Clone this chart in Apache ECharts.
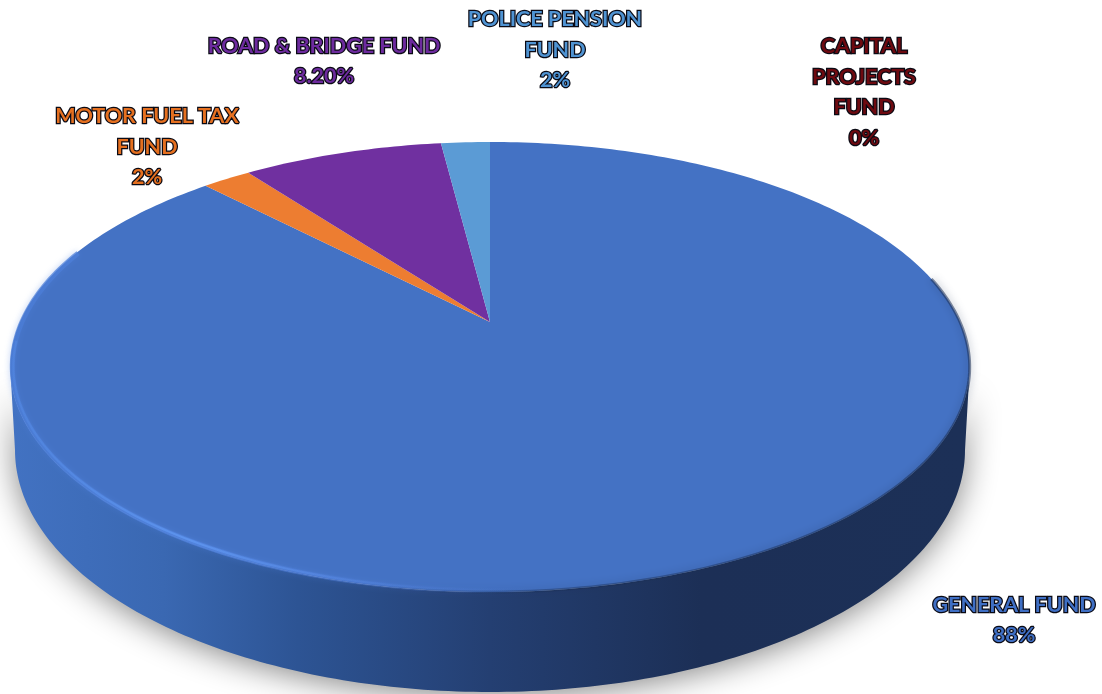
<!DOCTYPE html>
<html>
<head>
<meta charset="utf-8">
<style>
  html, body { margin: 0; padding: 0; background: #fff; }
  #chart { width: 1102px; height: 694px; }
</style>
<script src="https://cdn.jsdelivr.net/npm/echarts@6/dist/echarts.min.js"></script>
</head>
<body>
<div id="chart"></div>
<script>
// Share of funds, clockwise from twelve o'clock
const fundNames = ['GENERAL FUND', 'MOTOR FUEL TAX\nFUND', 'ROAD & BRIDGE FUND', 'POLICE PENSION\nFUND', 'CAPITAL\nPROJECTS\nFUND'];
const fundShares = [88, 2, 8.2, 2, 0];
const shareLabels = ['88%', '2%', '8.20%', '2%', '0%'];
const sliceColors = ['#4472c4', '#ed7d31', '#7030a0', '#5b9bd5', '#a5a5a5'];
const labelColors = ['#3f6fc4', '#e57020', '#6d2b9e', '#4f93d2', '#6e0a10'];
const labelCentres = [[1014, 620], [147, 147], [324, 61], [555, 50], [864, 92]];

// Perspective projection of the pie's top face and the ellipse of its base
const apex = { x: 490, y: 322 };
const persp = { a: 470, b: 216, k: 0.2 };
const base = { x: 490, y: 450, rx: 475, ry: 242 };
const total = fundShares.reduce((s, v) => s + v, 0);

function topPoint(deg, inset) {
  const t = deg * Math.PI / 180;
  const r = inset === undefined ? 1 : inset;
  const u = Math.sin(t) * r, v = Math.cos(t) * r;
  const w = 1 + persp.k * v;
  return [apex.x + persp.a * u / w, apex.y - persp.b * v / w];
}
function arcPoints(from, to, inset) {
  const pts = [];
  const n = Math.max(1, Math.ceil(Math.abs(to - from)));
  for (let i = 0; i <= n; i++) pts.push(topPoint(from + (to - from) * i / n, inset));
  return pts;
}
function basePoints() {
  const pts = [];
  for (let d = 180; d >= 0; d--) {
    const t = d * Math.PI / 180;
    pts.push([base.x + base.rx * Math.cos(t), base.y + base.ry * Math.sin(t)]);
  }
  return pts;
}

function drum() {
  const { LinearGradient } = echarts.graphic;
  return [
    {
      type: 'polygon',
      shape: { points: arcPoints(102, 258).concat(basePoints()) },
      style: {
        fill: new LinearGradient(0, 0, 1, 0, [
          { offset: 0, color: '#4272c2' },
          { offset: 0.16, color: '#3a68b2' },
          { offset: 0.3, color: '#2d5494' },
          { offset: 0.5, color: '#243f72' },
          { offset: 0.72, color: '#1c2f56' },
          { offset: 1, color: '#1c3057' }
        ]),
        shadowBlur: 32,
        shadowColor: 'rgba(0,0,0,0.48)',
        shadowOffsetY: 4
      }
    }
  ];
}
function softStroke(points, stroke, width, blur, blurColor) {
  return {
    type: 'polyline',
    shape: { points },
    style: { fill: null, stroke, lineWidth: width, shadowBlur: blur, shadowColor: blurColor }
  };
}
function rim() {
  const { LinearGradient } = echarts.graphic;
  const glowWide = new LinearGradient(0, 0, 1, 0, [
    { offset: 0, color: 'rgba(75,125,215,0.7)' },
    { offset: 0.3, color: 'rgba(80,130,222,0.8)' },
    { offset: 0.55, color: 'rgba(75,120,210,0.45)' },
    { offset: 0.85, color: 'rgba(70,115,200,0)' },
    { offset: 1, color: 'rgba(70,115,200,0)' }
  ]);
  const glowCore = new LinearGradient(0, 0, 1, 0, [
    { offset: 0, color: 'rgba(85,140,230,0.35)' },
    { offset: 0.28, color: 'rgba(95,150,240,0.85)' },
    { offset: 0.52, color: 'rgba(90,140,230,0.4)' },
    { offset: 0.8, color: 'rgba(70,115,200,0)' },
    { offset: 1, color: 'rgba(70,115,200,0)' }
  ]);
  const dark = new LinearGradient(0, 0, 1, 0, [
    { offset: 0, color: 'rgba(27,47,85,0)' },
    { offset: 0.3, color: 'rgba(27,47,85,0.4)' },
    { offset: 1, color: 'rgba(27,47,85,0.55)' }
  ]);
  return [
    softStroke(arcPoints(78, 195, 1), dark, 3, 8, 'rgba(27,47,85,0.7)'),
    softStroke(arcPoints(165, 290, 0.996), glowWide, 5, 6, 'rgba(80,130,222,0.5)'),
    softStroke(arcPoints(165, 265, 0.994), glowCore, 2, 3, 'rgba(95,150,240,0.5)')
  ];
}

const option = {
  animation: false,
  tooltip: { show: false },
  series: [{
    type: 'custom',
    coordinateSystem: 'none',
    silent: true,
    data: fundShares.map((v, i) => ({ name: fundNames[i], value: [v, i] })),
    renderItem(params, api) {
      const i = params.dataIndex;
      const value = api.value(0);
      const before = fundShares.slice(0, i).reduce((s, v) => s + v, 0);
      const start = before / total * 360;
      const end = (before + value) / total * 360;
      const children = [];
      if (i === 0) children.push(...drum());
      if (value > 0) {
        children.push({
          type: 'polygon',
          shape: { points: [[apex.x, apex.y]].concat(arcPoints(start, end)) },
          style: { fill: sliceColors[i] }
        });
      }
      if (i === 0) children.push(...rim());
      children.push({
        type: 'text',
        z2: 10,
        style: {
          x: labelCentres[i][0],
          y: labelCentres[i][1],
          text: fundNames[i] + '\n' + shareLabels[i],
          align: 'center',
          verticalAlign: 'middle',
          font: 'bold 21.5px Lato, "Open Sans", sans-serif',
          lineHeight: 30.5,
          fill: labelColors[i],
          stroke: '#0a0a14',
          lineWidth: 2.5
        }
      });
      return { type: 'group', children };
    }
  }]
};

echarts.init(document.getElementById('chart'), null, { renderer: 'canvas' }).setOption(option);
</script>
</body>
</html>
